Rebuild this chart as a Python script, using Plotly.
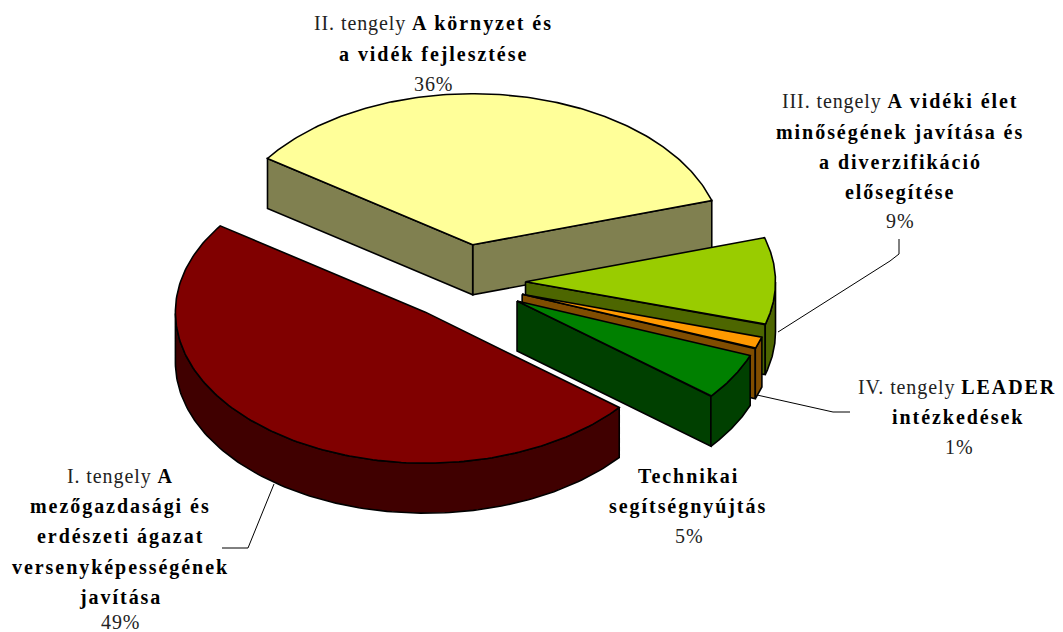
import numpy as np
import plotly.graph_objects as go

# --- data -------------------------------------------------------------
categories = ["II. tengely", "I. tengely", "Technikai segítségnyújtás", "IV. tengely", "III. tengely"]
shares = [35.6, 48.8, 5.0, 1.3, 9.3]
top_colors = ["#FFFF99", "#800000", "#008000", "#FF9900", "#99CC00"]
side_colors = ["#808050", "#400000", "#004000", "#804D00", "#4D6600"]
draw_order = [0, 4, 3, 2, 1]

# label lines: (x centre, y centre, html text)
R = '<span style="letter-spacing:0.9px;font-weight:normal;fill:#222">%s</span>'
B = '<span style="letter-spacing:1.95px"><b>%s</b></span>'
label_lines = [
    (433, 23, R % "II. tengely " + B % "A környzet és"),
    (433, 54, B % "a vidék fejlesztése"),
    (433, 84, R % "36%"),
    (900, 101, R % "III. tengely " + B % "A vidéki élet"),
    (900, 132, B % "minőségének javítása és"),
    (900, 162, B % "a diverzifikáció"),
    (900, 192, B % "elősegítése"),
    (900, 221, R % "9%"),
    (957, 387, R % "IV. tengely " + B % "LEADER"),
    (958, 417, B % "intézkedések"),
    (959, 447, R % "1%"),
    (688, 476, B % "Technikai"),
    (688, 506, B % "segítségnyújtás"),
    (689, 536, R % "5%"),
    (120, 476, R % "I. tengely " + B % "A"),
    (120, 506, B % "mezőgazdasági és"),
    (120, 536, B % "erdészeti ágazat"),
    (120, 567, B % "versenyképességének"),
    (120, 597, B % "javítása"),
    (120, 622, R % "49%"),
]
leader_x = [[222, 248, 274], [899, 899, 890, 778], [850, 833, 757]]
leader_y = [[548, 548, 484], [239, 254, 261, 332], [412, 412, 395]]

# --- pie projection ---------------------------------------------------
START_DEG = 17.0
CX, CY = 463.0, 282.0
A, B_AX = 250.0, 151.0
DEPTH = 50.0
EXPLODE = 0.25

fig = go.Figure()


def poly(xs, ys, fill):
    fig.add_trace(go.Scatter(
        x=list(xs), y=list(ys), mode="lines", fill="toself", fillcolor=fill,
        line=dict(color="#000000", width=1.6), hoverinfo="skip", showlegend=False,
    ))


angle = START_DEG
spans = []
for share in shares:
    spans.append((angle, angle + share * 3.6))
    angle += share * 3.6

for i in draw_order:
    t1, t2 = spans[i]
    top, side = top_colors[i], side_colors[i]
    mid = np.radians((t1 + t2) / 2)
    ax = CX + EXPLODE * A * np.cos(mid)
    ay = CY - EXPLODE * B_AX * np.sin(mid)
    th = np.radians(np.linspace(t1, t2, 160))
    rx = ax + A * np.cos(th)
    ry = ay - B_AX * np.sin(th)

    # cut faces that turn towards the viewer
    if np.sin(np.radians(t1 - 90)) < 0:
        poly([ax, rx[0], rx[0], ax, ax], [ay, ry[0], ry[0] + DEPTH, ay + DEPTH, ay], side)
    if np.sin(np.radians(t2 + 90)) < 0:
        poly([ax, rx[-1], rx[-1], ax, ax], [ay, ry[-1], ry[-1] + DEPTH, ay + DEPTH, ay], side)
    # outer wall: front half of the rim only
    front = np.sin(th) < 0
    if front.any():
        wx, wy = rx[front], ry[front]
        poly(np.r_[wx, wx[::-1], wx[0]], np.r_[wy, wy[::-1] + DEPTH, wy[0]], side)
    # top face
    poly(np.r_[ax, rx, ax], np.r_[ay, ry, ay], top)

for lx, ly in zip(leader_x, leader_y):
    fig.add_trace(go.Scatter(x=lx, y=ly, mode="lines", line=dict(color="#000000", width=1),
                             hoverinfo="skip", showlegend=False))

for x, y, text in label_lines:
    fig.add_annotation(x=x, y=y, text=text, showarrow=False, xanchor="center", yanchor="middle",
                       font=dict(family="Liberation Serif", size=20, color="#000000"))

fig.update_layout(
    width=1063, height=632, margin=dict(l=0, r=0, t=0, b=0),
    paper_bgcolor="#FFFFFF", plot_bgcolor="#FFFFFF",
    xaxis=dict(range=[0, 1063], visible=False, fixedrange=True),
    yaxis=dict(range=[632, 0], visible=False, fixedrange=True),
)
fig.write_html("out.html", config={"displayModeBar": False},
               post_script="document.body.style.margin='0';")
